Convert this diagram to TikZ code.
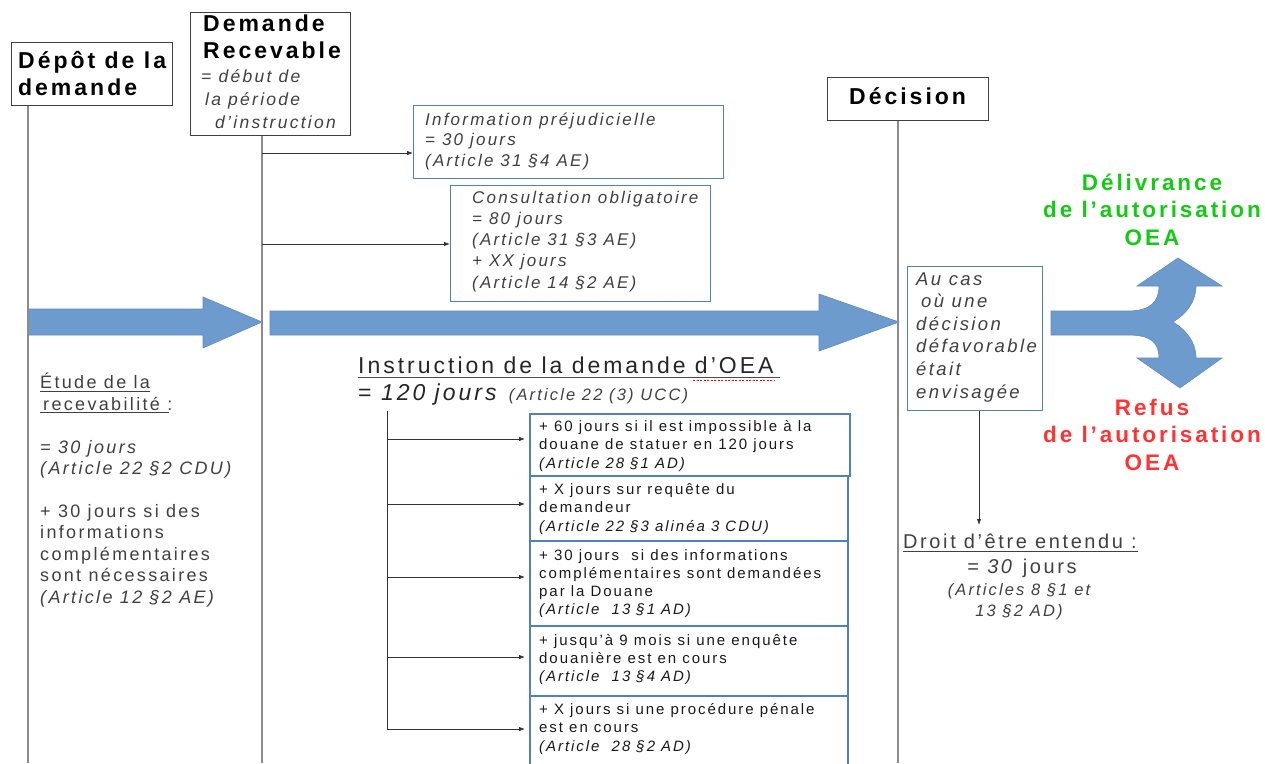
\documentclass[tikz,border=0pt]{standalone}
\usepackage{fontspec}
\setmainfont{Liberation Sans}[LetterSpace=13]
\usetikzlibrary{arrows.meta}
\definecolor{arrowfill}{HTML}{6E9BCD}
\definecolor{arrowedge}{HTML}{5E8BC0}
\definecolor{boxblue}{HTML}{4F81BD}
\definecolor{linegray}{HTML}{8C8C8C}
\definecolor{textgray}{HTML}{404040}
\definecolor{okgreen}{HTML}{11CC11}
\definecolor{nored}{HTML}{FF3333}
\newcommand\fsz[2]{\fontsize{#1}{#2}\selectfont}
\tikzset{
  hdrbox/.style={draw=black!75, line width=1pt, anchor=north west, inner sep=0pt},
  infobox/.style={draw=boxblue, line width=1pt, anchor=north west, inner sep=0pt},
  stepbox/.style={draw=boxblue, line width=2.2pt, anchor=north west, inner sep=0pt},
  txt/.style={anchor=base west, inner sep=0pt, align=left},
  ctxt/.style={anchor=base, inner sep=0pt, align=center},
  timeline/.style={draw=linegray, line width=1.4pt},
  conn/.style={draw=black!80, line width=0.8pt, -{Latex[length=6pt,width=4.5pt]}},
  bigarrow/.style={fill=arrowfill, draw=arrowedge, line width=0.6pt},
  ul/.style={draw=textgray, line width=0.8pt}
}
\begin{document}
\begin{tikzpicture}[x=1pt,y=-1pt]
\useasboundingbox (0,0) rectangle (1265,763);

% big arrows
\path[bigarrow] (28,309) -- (203,309) -- (203,297) -- (262,322) -- (203,348) -- (203,335) -- (28,335) -- cycle;
\path[bigarrow] (270,311) -- (819,311) -- (819,294) -- (899,322) -- (819,351) -- (819,335) -- (270,335) -- cycle;
% fork arrow
\path[bigarrow] (1051,311) -- (1128,311) .. controls (1150,311) and (1159,302) .. (1159,286)
  -- (1137,286) -- (1178,258) -- (1222,286) -- (1196,286)
  .. controls (1196,302) and (1186,314) .. (1173,322)
  .. controls (1186,330) and (1196,342) .. (1196,358)
  -- (1222,358) -- (1180,388) -- (1137,358) -- (1159,358)
  .. controls (1159,342) and (1150,335) .. (1128,335) -- (1051,335) -- cycle;

% header boxes
\node[hdrbox, minimum width=161pt, minimum height=63pt] (depot) at (11,42) {};
\node[hdrbox, minimum width=160pt, minimum height=123pt] (recev) at (190,12) {};
\node[hdrbox, minimum width=161pt, minimum height=43pt] (decision) at (827,77) {};

% timelines
\path[timeline] (depot.south -| 28,0) -- (28,763);
\path[timeline] (recev.south -| 262,0) -- (262,763);
\path[timeline] (decision.south -| 898,0) -- (898,763);

% header texts (base anchor = baseline of the last line)
\node[txt, font=\fsz{23}{27}\bfseries] (t-depot) at (18,95) {Dépôt de la\\demande};
\node[txt, font=\fsz{23}{27}\bfseries] (t-recev) at (203,58) {Demande\\Recevable};
\node[txt, font=\fsz{17.5}{23}\itshape, text=textgray] (t-debut) at (201,128)
  {= début de\\\hspace{4pt}la période\\\hspace{14pt}d’instruction};
\node[txt, font=\fsz{23}{27}\bfseries] (t-decision) at (849,104) {Décision};

% information boxes
\node[infobox, minimum width=310pt, minimum height=73pt] (info) at (413,105) {};
\node[txt, font=\fsz{17}{20.5}\itshape, text=textgray] at (425,166)
  {Information préjudicielle\\= 30 jours\\(Article 31 §4 AE)};
\node[infobox, minimum width=260pt, minimum height=116pt] (consult) at (450,185) {};
\node[txt, font=\fsz{17}{21.25}\itshape, text=textgray] at (472,288)
  {Consultation obligatoire\\= 80 jours\\(Article 31 §3 AE)\\+ XX jours\\(Article 14 §2 AE)};
\coordinate (c-info) at (262,153);
\coordinate (c-cons) at (262,244);
\path[conn] (c-info) -- (info.west |- c-info);
\path[conn] (c-cons) -- (consult.west |- c-cons);

% au cas box
\node[infobox, minimum width=135pt, minimum height=144pt] (aucas) at (907,266) {};
\node[txt, font=\fsz{18.5}{22.6}\itshape, text=textgray] at (916,398)
  {Au cas\\\hspace{5pt}où une\\décision\\défavorable\\était\\envisagée};

% outcomes
\node[ctxt, font=\fsz{22.5}{27.5}\bfseries, text=okgreen] (deliv) at (1152,245)
  {Délivrance\\de l’autorisation\\OEA};
\node[ctxt, font=\fsz{22.5}{27.5}\bfseries, text=nored] (refus) at (1152,470)
  {Refus\\de l’autorisation\\OEA};

% droit d'etre entendu
\coordinate (droit-top) at (979,525);
\path[conn] (aucas.south -| droit-top) -- (droit-top);
\node[txt, font=\fsz{20}{25}, text=textgray] (droit) at (903,548) {Droit d’être entendu :};
\path[ul] (903,551.5) -- (1138,551.5);
\node[ctxt, font=\fsz{20}{25}, text=textgray] at (1022,573) {= \textit{30} jours};
\node[ctxt, font=\fsz{16.5}{21}\itshape, text=textgray] at (1019,616) {(Articles 8 §1 et\\13 §2 AD)};

% left text
\node[txt, font=\fsz{18}{22}, text=textgray] (etude) at (40,410) {Étude de la\\\hspace{3pt}recevabilité :};
\path[ul] (40,391) -- (150,391);
\path[ul] (40,412.5) -- (169,412.5);
\node[txt, font=\fsz{18}{21}\itshape, text=textgray] at (40,474) {= 30 jours\\(Article 22 §2 CDU)};
\node[txt, font=\fsz{18}{21.5}, text=textgray] at (40,603)
  {+ 30 jours si des\\informations\\complémentaires\\sont nécessaires\\\textit{(Article 12 §2 AE)}};

% instruction
\node[txt, font=\fsz{23}{27}, text=black!85] (instr) at (358,373) {Instruction de la demande d’OEA};
\path[draw=black!70, line width=0.9pt] (358,377.5) -- (780,377.5);
\path[draw=red, line width=0.9pt, dash pattern=on 2pt off 1.5pt] (693,380) -- (775,380);
\node[txt, font=\fsz{23}{27}, text=black!85] (eq) at (358,400)
  {= \textit{120 jours} {\fsz{16.5}{20}\itshape\color{textgray}(Article 22 (3) UCC)}};

% step boxes
\node[stepbox, minimum width=320pt, minimum height=62pt] (s1) at (529,413) {};
\node[stepbox, minimum width=318pt, minimum height=65pt] (s2) at (529,475) {};
\node[stepbox, minimum width=318pt, minimum height=85pt] (s3) at (529,540) {};
\node[stepbox, minimum width=318pt, minimum height=70pt] (s4) at (529,625) {};
\node[stepbox, minimum width=318pt, minimum height=75pt] (s5) at (529,695) {};
\tikzset{steptxt/.style={txt, font=\fsz{15}{18.5}, text=black!90}}
\node[steptxt] at (539,468) {+ 60 jours si il est impossible à la\\douane de statuer en 120 jours\\\textit{(Article 28 §1 AD)}};
\node[steptxt] at (539,531) {+ X jours sur requête du\\demandeur\\\textit{(Article 22 §3 alinéa 3 CDU)}};
\node[steptxt, font=\fsz{15}{18}] at (539,614) {+ 30 jours\ \ si des informations\\complémentaires sont demandées\\par la Douane\\\textit{(Article\ \ 13 §1 AD)}};
\node[steptxt, font=\fsz{15}{18}] at (539,681) {+ jusqu’à 9 mois si une enquête\\douanière est en cours\\\textit{(Article\ \ 13 §4 AD)}};
\node[steptxt] at (539,751) {+ X jours si une procédure pénale\\est en cours\\\textit{(Article\ \ 28 §2 AD)}};

% step connectors
\coordinate (st-top) at (387,411);
\coordinate (st-bot) at (387,729);
\path[draw=black!80, line width=0.8pt] (st-top) -- (st-bot);
\coordinate (a1) at (387,439);
\coordinate (a2) at (387,504);
\coordinate (a3) at (387,577);
\coordinate (a4) at (387,657);
\path[conn] (a1) -- ([xshift=-4pt]s1.west |- a1);
\path[conn] (a2) -- ([xshift=-4pt]s2.west |- a2);
\path[conn] (a3) -- ([xshift=-4pt]s3.west |- a3);
\path[conn] (a4) -- ([xshift=-4pt]s4.west |- a4);
\path[conn] (st-bot) -- ([xshift=-4pt]s5.west |- st-bot);
\end{tikzpicture}
\end{document}
